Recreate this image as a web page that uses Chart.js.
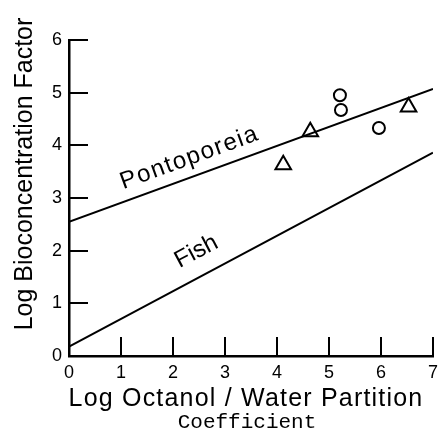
<!DOCTYPE html>
<html>
<head>
<meta charset="utf-8">
<script src="https://cdn.jsdelivr.net/npm/chart.js@4/dist/chart.umd.min.js"></script>
<style>
  html, body { margin: 0; padding: 0; background: #fff; }
  #bcf-chart { display: block; }
</style>
</head>
<body>
<canvas id="bcf-chart" width="444" height="435"></canvas>
<script>
// measured points: circles and triangles
const circleX = [5.21, 5.23, 5.96]
const circleY = [4.95, 4.67, 4.33]
const triangleX = [4.12, 4.64, 6.53]
const triangleY = [3.63, 4.26, 4.73]

// regression lines, end points at log Kow = 0 and 7
const lineX = [0, 7]
const pontoporeiaY = [2.55, 5.07]
const fishY = [0.18, 3.86]

const xTicks = [0, 1, 2, 3, 4, 5, 6, 7]
const yTicks = [0, 1, 2, 3, 4, 5, 6]

const toPoints = (xs, ys) => xs.map((x, i) => ({ x: x, y: ys[i] }))

const FONT = '"Liberation Sans", Arial, Helvetica, sans-serif'

// ticks pointing into the plot, line labels and axis titles
const decorations = {
  id: "decorations",
  afterDraw(chart) {
    const { ctx, chartArea, scales } = chart
    const x = scales.x
    const y = scales.y
    ctx.save()
    ctx.strokeStyle = "#000"
    ctx.lineWidth = 2
    ctx.beginPath()
    yTicks.slice(1).forEach(v => {
      const py = Math.round(y.getPixelForValue(v))
      ctx.moveTo(chartArea.left, py)
      ctx.lineTo(chartArea.left + 19, py)
    })
    xTicks.slice(1).forEach(v => {
      const px = Math.round(x.getPixelForValue(v))
      ctx.moveTo(px, chartArea.bottom)
      ctx.lineTo(px, chartArea.bottom - 19)
    })
    ctx.stroke()

    ctx.fillStyle = "#000"
    ctx.textAlign = "center"
    ctx.textBaseline = "middle"

    const slopeAngle = ys => {
      const dx = x.getPixelForValue(lineX[1]) - x.getPixelForValue(lineX[0])
      const dy = y.getPixelForValue(ys[1]) - y.getPixelForValue(ys[0])
      return Math.atan2(dy, dx)
    }

    ctx.font = "24px " + FONT
    ctx.save()
    ctx.translate(x.getPixelForValue(2.32), y.getPixelForValue(3.76))
    ctx.rotate(slopeAngle(pontoporeiaY))
    ctx.letterSpacing = "1.5px"
    ctx.fillText("Pontoporeia", 0, 0)
    ctx.restore()

    ctx.save()
    ctx.translate(x.getPixelForValue(2.45), y.getPixelForValue(1.98))
    ctx.rotate(slopeAngle(fishY))
    ctx.fillText("Fish", 0, 0)
    ctx.restore()

    // axis titles
    ctx.textBaseline = "alphabetic"
    ctx.save()
    ctx.font = "25px " + FONT
    ctx.translate(32, 174)
    ctx.rotate(-Math.PI / 2)
    ctx.fillText("Log Bioconcentration Factor", 0, 0)
    ctx.restore()

    ctx.save()
    ctx.font = "25px " + FONT
    ctx.letterSpacing = "1.2px"
    ctx.fillText("Log Octanol / Water Partition", 246, 406)
    ctx.restore()

    ctx.font = '21px "Liberation Mono", "Courier New", monospace'
    ctx.fillText("Coefficient", 247, 428)
    ctx.restore()
  }
}

const ctx = document.getElementById("bcf-chart")

const bcfChart = new Chart(ctx, {
  type: "scatter",
  data: {
    datasets: [
      {
        label: "Pontoporeia",
        data: toPoints(lineX, pontoporeiaY),
        showLine: true,
        borderColor: "#000",
        borderWidth: 2,
        pointRadius: 0,
      },
      {
        label: "Fish",
        data: toPoints(lineX, fishY),
        showLine: true,
        borderColor: "#000",
        borderWidth: 2,
        pointRadius: 0,
      },
      {
        label: "circles",
        data: toPoints(circleX, circleY),
        pointStyle: "circle",
        pointRadius: 6,
        borderColor: "#000",
        backgroundColor: "rgba(255,255,255,0)",
        borderWidth: 2,
      },
      {
        label: "triangles",
        data: toPoints(triangleX, triangleY),
        pointStyle: "triangle",
        pointRadius: 9,
        borderColor: "#000",
        backgroundColor: "rgba(255,255,255,0)",
        borderWidth: 2,
      },
    ],
  },
  options: {
    responsive: false,
    animation: false,
    devicePixelRatio: 1,
    layout: { padding: { top: 40, right: 6, left: 0, bottom: 0 } },
    plugins: {
      legend: { display: false },
      tooltip: { enabled: false },
    },
    scales: {
      x: {
        type: "linear",
        min: 0,
        max: 7,
        afterBuildTicks: s => { s.ticks = xTicks.map(v => ({ value: v })) },
        afterFit: s => { s.height = 79; s.paddingLeft = 0; s.paddingRight = 0 },
        grid: { display: false, drawTicks: false },
        border: { display: true, color: "#000", width: 2.5 },
        ticks: { color: "#000", padding: 6, font: { family: FONT, size: 18 } },
      },
      y: {
        type: "linear",
        min: 0,
        max: 6,
        afterBuildTicks: s => { s.ticks = yTicks.map(v => ({ value: v })) },
        afterFit: s => { s.width = 69; s.paddingTop = 0; s.paddingBottom = 0 },
        grid: { display: false, drawTicks: false },
        border: { display: true, color: "#000", width: 2.5 },
        ticks: { color: "#000", padding: 7, font: { family: FONT, size: 18 } },
      },
    },
  },
  plugins: [decorations],
})
</script>
</body>
</html>
